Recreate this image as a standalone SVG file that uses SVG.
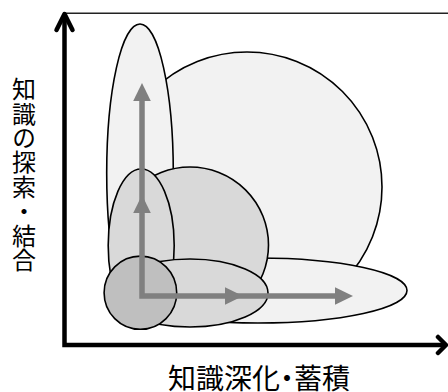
<svg xmlns="http://www.w3.org/2000/svg" width="448" height="392" viewBox="0 0 448 392">
  <style>
    .light { fill: #f2f2f2; stroke: #000; stroke-width: 1.6; }
    .mid { fill: #d9d9d9; stroke: #000; stroke-width: 1.6; }
    .dark { fill: #bfbfbf; stroke: #000; stroke-width: 1.6; }
    .axis { fill: none; stroke: #000; stroke-width: 4.5; }
    .chev { fill: none; stroke: #000; stroke-width: 4.5; stroke-linecap: round; stroke-linejoin: round; }
    .garrow { fill: none; stroke: #808080; stroke-width: 5.5; stroke-linejoin: miter; }
    .ghead { fill: #808080; stroke: none; }
    .lbl { font-family: "Noto Sans CJK JP", "Noto Sans", sans-serif; fill: #000; }
  </style>
  <rect width="448" height="392" fill="#fff"/>
  <!-- frame top line -->
  <line x1="64" y1="13.3" x2="448" y2="13.3" stroke="#222" stroke-width="1.4"/>

  <g id="shapes">
    <circle id="big-circle" class="light" cx="247" cy="187" r="135"/>
    <ellipse id="tall-ellipse" class="light" cx="140" cy="173" rx="33.3" ry="149"/>
    <ellipse id="wide-ellipse" class="light" cx="258" cy="290.5" rx="149" ry="32.5"/>
    <ellipse id="mid-circle" class="mid" cx="190" cy="245" rx="78.5" ry="78"/>
    <ellipse id="mid-tall-ellipse" class="mid" cx="141.2" cy="245.5" rx="33" ry="76.5"/>
    <ellipse id="mid-wide-ellipse" class="mid" cx="190" cy="293" rx="78" ry="34"/>
    <ellipse id="small-circle" class="dark" cx="140.4" cy="292.7" rx="36.3" ry="36.6"/>
  </g>

  <g id="connectors">
    <!-- axes -->
    <polyline class="axis" points="64.5,14 64.5,345 446,345"/>
    <polyline class="chev" points="56.5,30 64.5,14 72.5,30"/>
    <polyline class="chev" points="438,337 446,345 438,353"/>
    <!-- gray growth arrows -->
    <polyline class="garrow" points="142,100 142,296 336,296"/>
    <polygon class="ghead" points="142,83 133.2,101 150.8,101"/>
    <polygon class="ghead" points="142,195 133.2,213 150.8,213"/>
    <polygon class="ghead" points="353,296 335,287.2 335,304.8"/>
    <polygon class="ghead" points="243,296 225,287.2 225,304.8"/>
  </g>

  <g id="labels">
    <text class="lbl" font-size="24" x="24" y="77" style="writing-mode: vertical-rl; letter-spacing: 0.4px;">知識の探索・結合</text>
    <text class="lbl" font-size="28" x="259" y="389" text-anchor="middle" style="font-feature-settings: 'palt';">知識深化・蓄積</text>
  </g>
</svg>
